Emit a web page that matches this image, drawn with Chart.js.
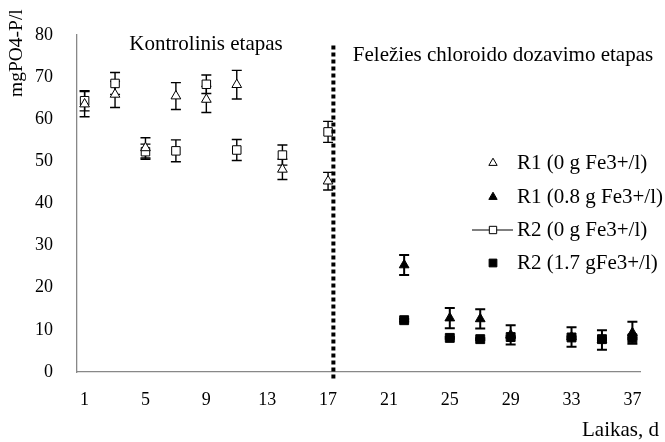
<!DOCTYPE html>
<html>
<head>
<meta charset="utf-8">
<script src="https://cdn.jsdelivr.net/npm/chart.js@4.4.1/dist/chart.umd.min.js"></script>
<style>
  html, body { margin: 0; padding: 0; background: #fff; }
  #wrap { width: 665px; height: 442px; }
</style>
</head>
<body>
<div id="wrap"><canvas id="chart" width="665" height="442"></canvas></div>
<script>
// ---------- DATOS ----------
const daysControl = [1, 3, 5, 7, 9, 11, 14, 17];
const r1Control = [63.6, 65.9, 53.2, 65.5, 64.7, 68.2, 48.1, 45.3];
const r1ControlErr = [3.0, 3.1, 2.4, 3.2, 3.1, 3.4, 2.4, 2.1];
const r2Control = [64.4, 68.5, 52.3, 52.5, 68.3, 52.7, 51.5, 57.0];
const r2ControlErr = [2.4, 2.6, 1.8, 2.6, 2.2, 2.5, 2.4, 2.5];

const daysDosing = [22, 25, 27, 29, 33, 35, 37];
const r1Dosing = [25.4, 12.8, 12.6, 8.8, 8.3, 7.6, 9.3];
const r1DosingErr = [2.4, 2.4, 2.3, 2.3, 2.3, 2.3, 2.6];
const r2Dosing = [12.3, 8.1, 7.8, 8.3, 8.2, 7.8, 8.0];
const r2DosingErr = [0.3, 0.2, 0.2, 0.2, 0.2, 0.2, 0.2];

const xTickLabels = [1, 5, 9, 13, 17, 21, 25, 29, 33, 37];
const seriesLabels = ['R1 (0 g Fe3+/l)', 'R1 (0.8 g Fe3+/l)', 'R2 (0 g Fe3+/l)', 'R2 (1.7 gFe3+/l)'];
const stageLabels = ['Kontrolinis etapas', 'Feležies chloroido dozavimo etapas'];
const stageBoundary = 17.35;
const yTitle = 'mgPO4-P/l';
const xTitle = 'Laikas, d';

const FONT = '"Liberation Serif", "Times New Roman", serif';

function toPoints(days, vals) {
    return days.map((d, i) => ({ x: d, y: vals[i] }));
}

// ---------- PLUGIN: BARRAS DE ERROR ----------
const errorBars = {
    id: 'errorBars',
    beforeDatasetsDraw(chart) {
        const ctx = chart.ctx;
        const xs = chart.scales.x, ys = chart.scales.y;
        ctx.save();
        ctx.strokeStyle = '#000';
        chart.data.datasets.forEach(ds => {
            if (!ds.errors) return;
            ctx.lineWidth = ds.errWidth || 1.4;
            ds.data.forEach((p, i) => {
                const e = ds.errors[i];
                const x = xs.getPixelForValue(p.x);
                const yt = ys.getPixelForValue(p.y + e);
                const yb = ys.getPixelForValue(p.y - e);
                ctx.beginPath();
                ctx.moveTo(x, yt); ctx.lineTo(x, yb);
                ctx.moveTo(x - 5, yt); ctx.lineTo(x + 5, yt);
                ctx.moveTo(x - 5, yb); ctx.lineTo(x + 5, yb);
                ctx.stroke();
            });
        });
        ctx.restore();
    }
};

// ---------- PLUGIN: TEXTOS, LÍNEA Y LEYENDA ----------
const extras = {
    id: 'extras',
    afterDraw(chart) {
        const ctx = chart.ctx;
        const xs = chart.scales.x, ys = chart.scales.y;
        ctx.save();

        // línea punteada entre etapas
        const lx = xs.getPixelForValue(stageBoundary);
        ctx.strokeStyle = '#000';
        ctx.lineWidth = 4;
        ctx.setLineDash([4, 3]);
        ctx.beginPath();
        ctx.moveTo(lx, ys.getPixelForValue(77.5));
        ctx.lineTo(lx, ys.getPixelForValue(-2.1));
        ctx.stroke();
        ctx.setLineDash([]);

        // textos de etapas
        ctx.fillStyle = '#000';
        ctx.font = '21px ' + FONT;
        ctx.textBaseline = 'middle';
        ctx.textAlign = 'center';
        ctx.fillText(stageLabels[0], 206, 44);
        ctx.fillText(stageLabels[1], 503, 55);

        // títulos de ejes
        ctx.textAlign = 'right';
        ctx.fillText(xTitle, 659, 430);
        ctx.save();
        ctx.font = '19.5px ' + FONT;
        ctx.translate(17, 97);
        ctx.rotate(-Math.PI / 2);
        ctx.textAlign = 'left';
        ctx.fillText(yTitle, 0, 0);
        ctx.restore();

        // leyenda
        const rows = [163, 197, 230, 263];
        chart.data.datasets.forEach((ds, i) => {
            const y = rows[i];
            ctx.strokeStyle = '#000';
            ctx.lineWidth = 1;
            if (ds.legendLine) {
                ctx.beginPath();
                ctx.moveTo(472, y); ctx.lineTo(513, y);
                ctx.stroke();
            }
            ctx.fillStyle = ds.backgroundColor;
            Chart.helpers.drawPoint(ctx, {
                pointStyle: ds.pointStyle, radius: ds.pointRadius - 0.8,
                rotation: 0, borderWidth: 1
            }, 493, y);
            ctx.fillStyle = '#000';
            ctx.textAlign = 'left';
            ctx.fillText(ds.label, 517, y);
        });
        ctx.restore();
    }
};

// ---------- GRÁFICA ----------
const ctx = document.getElementById('chart');
new Chart(ctx, {
    type: 'scatter',
    data: {
        datasets: [
            {
                label: seriesLabels[0], data: toPoints(daysControl, r1Control), errors: r1ControlErr,
                pointStyle: 'triangle', pointRadius: 5.6, backgroundColor: '#fff',
                borderColor: '#000', borderWidth: 1
            },
            {
                label: seriesLabels[1], data: toPoints(daysDosing, r1Dosing), errors: r1DosingErr, errWidth: 2,
                pointStyle: 'triangle', pointRadius: 5.6, backgroundColor: '#000',
                borderColor: '#000', borderWidth: 1
            },
            {
                label: seriesLabels[2], data: toPoints(daysControl, r2Control), errors: r2ControlErr,
                pointStyle: 'rect', pointRadius: 6, backgroundColor: '#fff',
                borderColor: '#000', borderWidth: 1, legendLine: true
            },
            {
                label: seriesLabels[3], data: toPoints(daysDosing, r2Dosing), errors: r2DosingErr, errWidth: 2,
                pointStyle: 'rect', pointRadius: 6.3, backgroundColor: '#000',
                borderColor: '#000', borderWidth: 1
            }
        ]
    },
    options: {
        responsive: false,
        animation: false,
        layout: { padding: { left: 0, top: 35, right: 25, bottom: 0 } },
        plugins: {
            legend: { display: false },
            tooltip: { enabled: false }
        },
        scales: {
            x: {
                type: 'linear',
                min: 0.5,
                max: 37.5,
                afterBuildTicks: s => { s.ticks = xTickLabels.map(v => ({ value: v })); },
                afterFit: s => { s.height = 70; },
                grid: { display: false, drawTicks: false },
                border: { display: true, color: '#888', width: 1.3 },
                ticks: { color: '#000', padding: 17, maxRotation: 0, autoSkip: false,
                          font: { family: FONT, size: 18 } }
            },
            y: {
                min: 0,
                max: 80,
                afterFit: s => { s.width = 77; },
                grid: { display: false, drawTicks: false },
                border: { display: true, color: '#888', width: 1.3 },
                ticks: { stepSize: 10, color: '#000', padding: 24,
                          font: { family: FONT, size: 18 } }
            }
        }
    },
    plugins: [errorBars, extras]
});
</script>
</body>
</html>
